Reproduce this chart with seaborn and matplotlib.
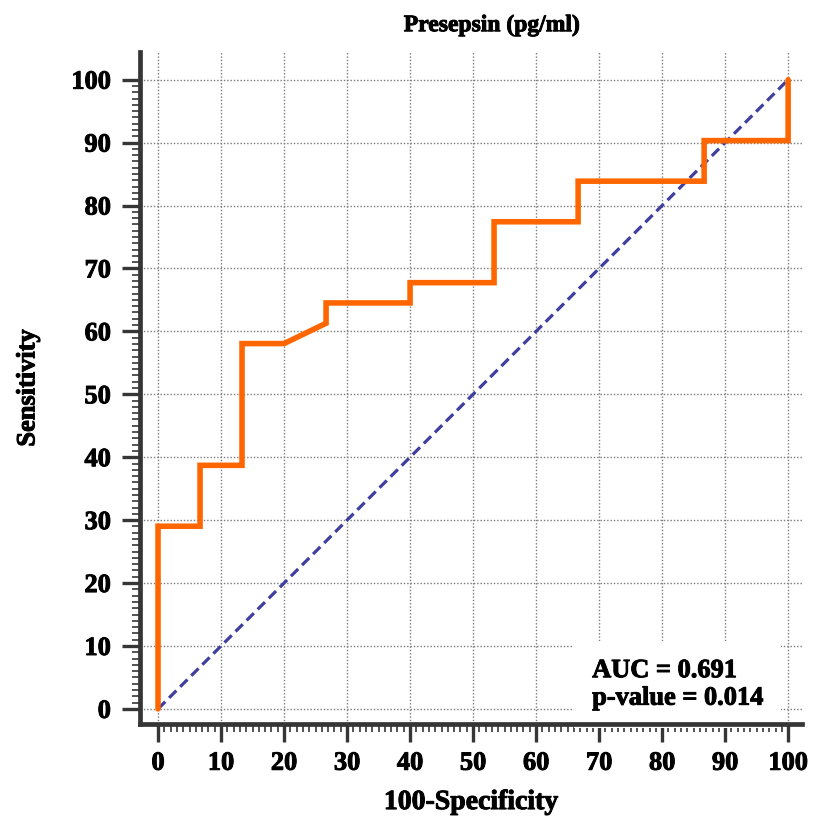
import numpy as np
import pandas as pd
import matplotlib
matplotlib.use("Agg")
import matplotlib.pyplot as plt
import matplotlib.patheffects as pe
from matplotlib.ticker import FixedLocator
import seaborn as sns

# ROC curve (100-specificity, sensitivity)
fpr = [0, 0, 6.67, 6.67, 13.33, 13.33, 20, 26.67, 26.67, 40, 40,
       53.33, 53.33, 66.67, 66.67, 86.67, 86.67, 100, 100]
tpr = [0, 29.03, 29.03, 38.71, 38.71, 58.06, 58.06, 61.29, 64.52, 64.52, 67.74,
       67.74, 77.42, 77.42, 83.87, 83.87, 90.32, 90.32, 100]
ref_line = [0, 100]
ticks = list(range(0, 101, 10))
minor_ticks = list(range(0, 101))
auc_text = "AUC = 0.691\np-value = 0.014"

roc = pd.DataFrame({"fpr": fpr, "tpr": tpr})
diag = pd.DataFrame({"x": ref_line, "y": ref_line})

sns.set_theme(style="white")
plt.rcParams['font.family'] = ['Liberation Serif', 'DejaVu Serif']
plt.rcParams['font.weight'] = 'bold'
plt.rcParams['text.color'] = 'black'
plt.rcParams['axes.labelcolor'] = 'black'
plt.rcParams['xtick.color'] = 'black'
plt.rcParams['ytick.color'] = 'black'

# a thin stroke to make the bold type a bit heavier, like the original
heavy = [pe.withStroke(linewidth=0.7, foreground="black")]

fig = plt.figure(figsize=(8.13, 8.16), dpi=100)
ax = fig.add_axes([140 / 813, 1 - 724 / 816, 662 / 813, 672 / 816])

sns.lineplot(data=diag, x="x", y="y", ax=ax, color="#3f3f9f", linewidth=2.3,
             linestyle=(0, (3.2, 1.7)), zorder=3)
sns.lineplot(data=roc, x="fpr", y="tpr", ax=ax, sort=False, estimator=None,
             color="#ff6600", linewidth=4.0, zorder=4,
             solid_joinstyle="miter")

ax.set_xlim(-2.86, 102.2)
ax.set_ylim(-2.4, 104.4)
ax.set_xticks(ticks)
ax.set_yticks(ticks)
ax.xaxis.set_minor_locator(FixedLocator(minor_ticks))
ax.yaxis.set_minor_locator(FixedLocator(minor_ticks))

ax.grid(True, which="major", color="#7a7a7a", linestyle=(0, (1, 1.4)), linewidth=1.0, zorder=0)
ax.set_axisbelow(True)

for side in ["top", "right"]:
    ax.spines[side].set_visible(False)
for side in ["left", "bottom"]:
    ax.spines[side].set_color("#363636")
    ax.spines[side].set_linewidth(3.4)

ax.tick_params(which="major", direction="out", length=13, width=2.4, color="#363636",
               labelsize=19, labelcolor="black", bottom=True, left=True)
ax.tick_params(which="minor", direction="out", length=6, width=1.2, color="#363636",
               bottom=True, left=True)
ax.tick_params(axis="x", which="major", pad=7)
ax.tick_params(axis="y", which="major", pad=8)
for lab in ax.get_xticklabels() + ax.get_yticklabels():
    lab.set_fontweight("bold")
    lab.set_path_effects(heavy)

ax.set_xlabel("100-Specificity", fontsize=20, fontweight="bold", labelpad=11,
              path_effects=heavy)
ax.set_ylabel("Sensitivity", fontsize=19, fontweight="bold", labelpad=23,
              path_effects=heavy)
ax.set_title("Presepsin (pg/ml)", fontsize=17, fontweight="bold", pad=15,
             x=0.532, path_effects=heavy)

# white box hides the grid behind the text but stays under the spines
ax.text(68.9, 7.9, auc_text, fontsize=19, fontweight="bold", ha="left", va="top",
        linespacing=1.25, zorder=2.2, path_effects=heavy,
        bbox=dict(facecolor="white", edgecolor="none", pad=13))

fig.savefig("out.png", dpi=100)
